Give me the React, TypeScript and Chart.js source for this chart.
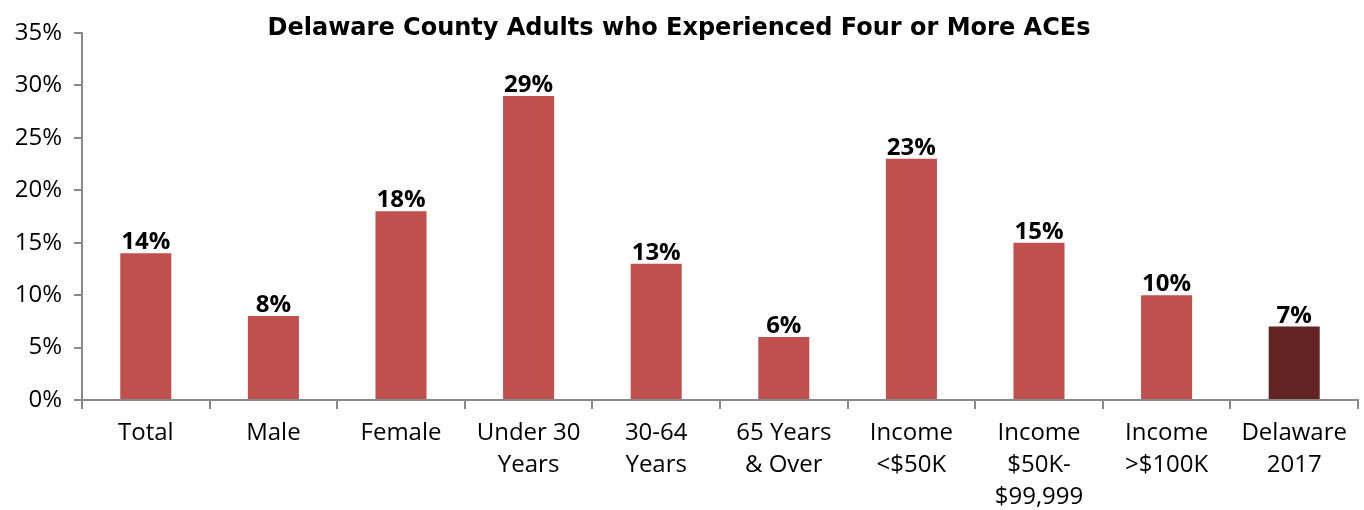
import React, { useEffect, useRef } from "react";
import { Chart, registerables } from "chart.js";

Chart.register(...registerables);

const categories: string[][] = [
  ["Total"],
  ["Male"],
  ["Female"],
  ["Under 30", "Years"],
  ["30-64", "Years"],
  ["65 Years", "& Over"],
  ["Income", "<$50K"],
  ["Income", "$50K-", "$99,999"],
  ["Income", ">$100K"],
  ["Delaware", "2017"],
];
const values: number[] = [14, 8, 18, 29, 13, 6, 23, 15, 10, 7];
const barColors: string[] = [
  "#C0504D", "#C0504D", "#C0504D", "#C0504D", "#C0504D",
  "#C0504D", "#C0504D", "#C0504D", "#C0504D", "#632523",
];
const yMin = 0;
const yMax = 35;
const yStep = 5;
const title = "Delaware County Adults who Experienced Four or More ACEs";

const FONT = "'Open Sans', 'Noto Sans', sans-serif";
const TITLE_FONT = "'DejaVu Sans', 'Open Sans', sans-serif";
const AXIS = "#898989";

const labelPlugin = {
  id: "barLabels",
  afterDatasetsDraw(chart: any) {
    const ctx = chart.ctx;
    const meta = chart.getDatasetMeta(0);
    ctx.save();
    ctx.font = `bold 24px ${FONT}`;
    ctx.fillStyle = "#000";
    ctx.textAlign = "center";
    ctx.textBaseline = "alphabetic";
    meta.data.forEach((el: any, i: number) => {
      ctx.fillText(`${values[i]}%`, el.x, el.y - 4);
    });
    ctx.restore();
  },
};

export default function App() {
  const ref = useRef<HTMLCanvasElement | null>(null);
  useEffect(() => {
    document.body.style.margin = "0";
    const chart = new Chart(ref.current as HTMLCanvasElement, {
      type: "bar",
      data: {
        labels: categories,
        datasets: [
          {
            data: values,
            backgroundColor: barColors,
            categoryPercentage: 1,
            barPercentage: 0.4,
          },
        ],
      },
      options: {
        animation: false,
        responsive: false,
        maintainAspectRatio: false,
        layout: { padding: { left: 0, right: 6, top: 0, bottom: 0 } },
        plugins: {
          legend: { display: false },
          tooltip: { enabled: false },
          title: {
            display: true,
            text: title,
            color: "#000",
            font: { family: TITLE_FONT, size: 24, weight: "bold", lineHeight: 20 / 24 },
            padding: { top: 19, bottom: -6 },
          },
        },
        scales: {
          x: {
            grid: {
              offset: true,
              drawOnChartArea: false,
              drawTicks: true,
              tickLength: 9,
              color: AXIS,
              lineWidth: 2,
            },
            border: { color: AXIS, width: 2 },
            ticks: {
              color: "#000",
              font: { family: FONT, size: 24, lineHeight: 32 / 24 },
              padding: 8,
              maxRotation: 0,
              autoSkip: false,
            },
            afterFit(scale: any) {
              scale.height = 110;
            },
          },
          y: {
            min: yMin,
            max: yMax,
            grid: {
              drawOnChartArea: false,
              drawTicks: true,
              tickLength: 8,
              color: AXIS,
              lineWidth: 2,
            },
            border: { color: AXIS, width: 2 },
            ticks: {
              stepSize: yStep,
              color: "#000",
              font: { family: FONT, size: 24 },
              padding: 12,
              callback: (v: any) => `${v}%`,
            },
            afterFit(scale: any) {
              scale.width = 82;
            },
          },
        },
      },
      plugins: [labelPlugin],
    });
    return () => chart.destroy();
  }, []);
  return (
    <div style={{ position: "absolute", left: 0, top: 0, width: 1364, height: 510 }}>
      <canvas ref={ref} width={1364} height={510} />
    </div>
  );
}
